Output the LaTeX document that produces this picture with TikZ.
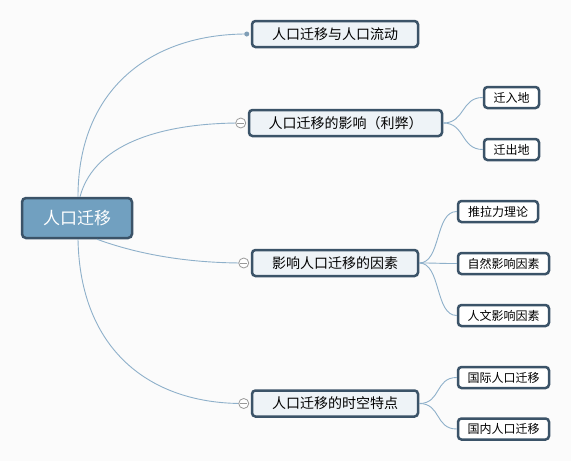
\documentclass[tikz,border=0pt]{standalone}
\usepackage{fontspec}
\newfontfamily\cjk{Noto Sans CJK SC}
\definecolor{bordc}{HTML}{3B5368}
\definecolor{rootc}{HTML}{71A0C0}
\definecolor{subc}{HTML}{EEF3F7}
\definecolor{linec}{HTML}{8EB0CA}
\definecolor{bgc}{HTML}{FBFBFB}
\begin{document}
\begin{tikzpicture}[x=1pt,y=-1pt,
  rootbox/.style={draw=bordc,fill=rootc,line width=2.5pt,rounded corners=4pt,minimum width=110pt,minimum height=40pt,inner sep=0pt,text=white,font=\cjk\fontsize{17}{17}\selectfont},
  subbox/.style={draw=bordc,fill=subc,line width=2.5pt,rounded corners=3.5pt,minimum height=26pt,inner sep=0pt,font=\cjk\fontsize{14}{14}\selectfont},
  leafbox/.style={draw=bordc,fill=white,line width=2.5pt,rounded corners=3.5pt,minimum height=21pt,inner sep=0pt,font=\cjk\fontsize{12}{12}\selectfont},
  conn/.style={draw=linec,line width=0.9pt},
  toggle/.style={circle,draw=gray!80,fill=white,line width=0.8pt,minimum size=10pt,inner sep=0pt,
    path picture={\draw[gray!80,line width=0.8pt] ([xshift=-3.5pt]path picture bounding box.center) -- ([xshift=3.5pt]path picture bounding box.center);}},
  dotmark/.style={circle,fill=linec!90!black,minimum size=5pt,inner sep=0pt}
]
\useasboundingbox[fill=bgc] (0,0) rectangle (571,461);

\node[rootbox] (root) at (77,218) {人口迁移};

\node[subbox,minimum width=166pt] (b1) at (335,34) {人口迁移与人口流动};
\node[subbox,minimum width=193pt] (b2) at (345.5,123) {人口迁移的影响（利弊）};
\node[subbox,minimum width=166pt] (b3) at (335,263) {影响人口迁移的因素};
\node[subbox,minimum width=166pt] (b4) at (335,403.5) {人口迁移的时空特点};

\node[leafbox,minimum width=55pt] (l1) at (511.5,97.5) {迁入地};
\node[leafbox,minimum width=55pt] (l2) at (511.5,149.5) {迁出地};
\node[leafbox,minimum width=80pt] (l3) at (498,211.5) {推拉力理论};
\node[leafbox,minimum width=91pt] (l4) at (503.5,263.5) {自然影响因素};
\node[leafbox,minimum width=91pt] (l5) at (503.5,315.5) {人文影响因素};
\node[leafbox,minimum width=91pt] (l6) at (503.5,377.5) {国际人口迁移};
\node[leafbox,minimum width=91pt] (l7) at (503.5,429) {国内人口迁移};

% root connectors
\coordinate (r1) at ([xshift=1pt]root.north);
\coordinate (r2) at ([xshift=3pt]root.north);
\coordinate (r3) at ([xshift=20pt]root.south);
\coordinate (r4) at ([xshift=1pt]root.south);
\coordinate (e1) at ([xshift=-4pt]b1.west);
\coordinate (e2) at ([xshift=-7pt]b2.west);
\coordinate (e3) at ([xshift=-7pt]b3.west);
\coordinate (e4) at ([xshift=-7pt]b4.west);

\draw[conn] (r1) .. controls (78,90) and (150,34) .. (e1);
\draw[conn] (r2) .. controls (95,140) and (170,123) .. (e2);
\draw[conn] (r3) .. controls (140,255) and (190,263) .. (e3);
\draw[conn] (r4) .. controls (80,350) and (150,404) .. (e4);

\node[dotmark] (d1) at (e1) {};
\node[toggle] (t2) at (e2) {};
\node[toggle] (t3) at (e3) {};
\node[toggle] (t4) at (e4) {};

% leaf connectors
\draw[conn] (b2.east) .. controls +(22,0) and ([xshift=-22pt]l1.west) .. (l1.west);
\draw[conn] (b2.east) .. controls +(22,0) and ([xshift=-22pt]l2.west) .. (l2.west);
\draw[conn] (b3.east) .. controls +(22,0) and ([xshift=-22pt]l3.west) .. (l3.west);
\draw[conn] (b3.east) .. controls +(22,0) and ([xshift=-22pt]l4.west) .. (l4.west);
\draw[conn] (b3.east) .. controls +(22,0) and ([xshift=-22pt]l5.west) .. (l5.west);
\draw[conn] (b4.east) .. controls +(22,0) and ([xshift=-22pt]l6.west) .. (l6.west);
\draw[conn] (b4.east) .. controls +(22,0) and ([xshift=-22pt]l7.west) .. (l7.west);
\end{tikzpicture}
\end{document}
